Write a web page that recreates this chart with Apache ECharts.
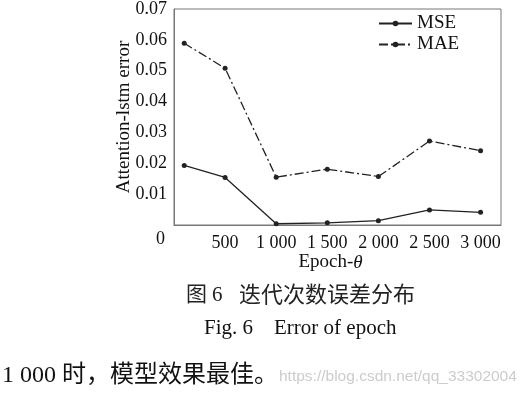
<!DOCTYPE html>
<html>
<head>
<meta charset="utf-8">
<script src="https://cdn.jsdelivr.net/npm/echarts@6/dist/echarts.min.js"></script>
<style>
  html, body { margin: 0; padding: 0; background: #fff; }
  #main { width: 532px; height: 398px; }
</style>
</head>
<body>
<div id="main"></div>
<script>
var epochs = [100, 500, 1000, 1500, 2000, 2500, 3000];
var mse = [0.0193, 0.0154, 0.0004, 0.0007, 0.0014, 0.0049, 0.0041];
var mae = [0.0589, 0.0508, 0.0155, 0.0181, 0.0157, 0.0272, 0.0241];

var serif = 'Liberation Serif';
var cjk = 'Noto Sans CJK SC';

function pairs(ys) {
  return epochs.map(function (x, i) { return [x, ys[i]]; });
}

// 1000 -> "1 000"
function fmtThousands(v) {
  var s = String(v);
  if (v >= 1000) s = s.slice(0, s.length - 3) + ' ' + s.slice(-3);
  return s;
}

var chart = echarts.init(document.getElementById('main'));

var option = {
  animation: false,
  grid: {
    left: 174, right: 31, top: 7, bottom: 173,
    show: true, borderColor: '#777', borderWidth: 1
  },
  legend: {
    orient: 'vertical',
    left: 373, top: 9,
    itemWidth: 33, itemHeight: 7, itemGap: 2,
    textStyle: { fontFamily: serif, fontSize: 19, color: '#111' },
    data: ['MSE', 'MAE']
  },
  xAxis: {
    type: 'value',
    min: 0, max: 3200, interval: 500,
    axisLine: { lineStyle: { color: '#777' } },
    axisTick: { show: false },
    splitLine: { show: false },
    axisLabel: {
      margin: 9,
      fontFamily: serif, fontSize: 18, color: '#111',
      showMaxLabel: false,
      formatter: function (v) { return v === 0 ? '' : fmtThousands(v); }
    },
    name: 'Epoch-{i|θ}',
    nameLocation: 'middle',
    nameMoveOverlap: false,
    nameGap: 28,
    nameTextStyle: {
      fontFamily: serif, fontSize: 19, color: '#111', padding: [0, 14, 0, 0],
      rich: { i: { fontFamily: serif, fontSize: 19, fontStyle: 'italic', color: '#111' } }
    }
  },
  yAxis: {
    type: 'value',
    min: 0, max: 0.07, interval: 0.01,
    axisLine: { show: true, lineStyle: { color: '#777' } },
    axisTick: { show: false },
    splitLine: { show: false },
    axisLabel: {
      margin: 7,
      fontFamily: serif, fontSize: 18, color: '#111',
      formatter: function (v) {
        var r = Math.round(v * 100) / 100;
        return r === 0 ? '' : r.toFixed(2);
      }
    },
    name: 'Attention-lstm error',
    nameLocation: 'middle',
    nameMoveOverlap: false,
    nameGap: 40,
    nameTextStyle: { fontFamily: serif, fontSize: 19, color: '#111' }
  },
  series: [
    {
      name: 'MSE',
      type: 'line',
      data: pairs(mse),
      symbol: 'circle',
      symbolSize: 5,
      itemStyle: { color: '#222' },
      lineStyle: { color: '#222', width: 1.3, type: 'solid' }
    },
    {
      name: 'MAE',
      type: 'line',
      data: pairs(mae),
      symbol: 'circle',
      symbolSize: 5,
      itemStyle: { color: '#222' },
      lineStyle: { color: '#222', width: 1.3, type: [9, 3, 2, 3] }
    }
  ],
  graphic: [
    { type: 'text', left: 156, top: 230,
      style: { text: '0', font: '18px "' + serif + '"', fill: '#111' } },
    { type: 'text', left: 186, top: 283,
      style: { text: '图', font: '21px "' + cjk + '"', fill: '#222' } },
    { type: 'text', left: 212, top: 285,
      style: { text: '6', font: '21px "' + serif + '"', fill: '#222' } },
    { type: 'text', left: 239, top: 283,
      style: { text: '迭代次数误差分布', font: '22px "' + cjk + '"', fill: '#222' } },
    { type: 'text', left: 204, top: 318,
      style: { text: 'Fig. 6    Error of epoch', font: '21px "' + serif + '"', fill: '#111' } },
    { type: 'text', left: 2, top: 364,
      style: { text: '1 000', font: '24px "' + serif + '"', fill: '#111' } },
    { type: 'text', left: 62, top: 361,
      style: { text: '时，模型效果最佳。', font: '24px "' + cjk + '"', fill: '#111' } },
    { type: 'text', left: 279, top: 369,
      style: { text: 'https://blog.csdn.net/qq_33302004', font: '15.5px "Liberation Sans"', fill: '#ccc' } }
  ]
};

chart.setOption(option);
</script>
</body>
</html>
